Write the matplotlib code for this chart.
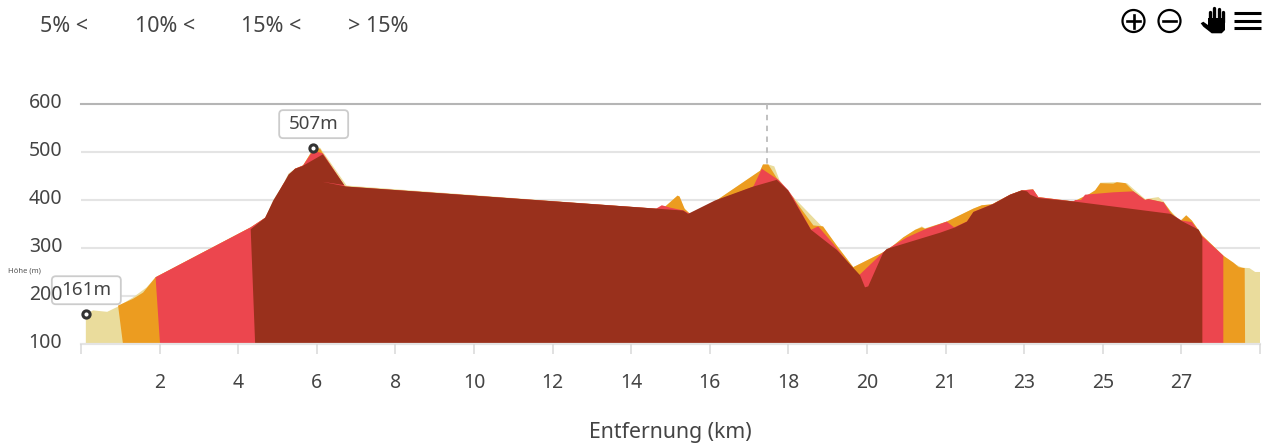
# -*- coding: utf-8 -*-
import matplotlib
matplotlib.use("Agg")
import matplotlib.pyplot as plt
from matplotlib.patches import Circle, FancyBboxPatch, Polygon
from matplotlib.transforms import ScaledTranslation

plt.rcParams['font.family'] = ['Noto Sans', 'DejaVu Sans']

text_col = '#444444'
fontsize = 14

legend_labels = ["5% <", "10% <", "15% <", "> 15%"]
y_ticks = [100, 200, 300, 400, 500, 600]
x_ticks = [0, 1.95, 3.9, 5.85, 7.8, 9.75, 11.7, 13.65, 15.6, 17.55, 19.5,
           21.45, 23.4, 25.35, 27.3, 29.25]
x_labels = ["", "2", "4", "6", "8", "10", "12", "14", "16", "18", "20",
            "21", "23", "25", "27", ""]

# gradient classes, each one an area drawn over the one before
tan_km = [0.12, 0.12, 0.30, 0.65, 0.92, 1.29, 1.63, 1.85, 4.21, 4.57, 4.77,
          5.01, 5.15, 5.31, 5.51, 5.76, 5.93, 6.59, 14.40, 14.49, 14.80,
          14.85, 14.95, 15.11, 15.73, 16.85, 16.92, 17.05, 17.20, 17.33,
          17.64, 18.38, 18.75, 19.16, 19.90, 20.15, 20.40, 20.70, 20.86,
          20.94, 21.48, 22.14, 22.35, 22.60, 23.05, 23.34, 23.62, 23.75,
          24.62, 24.71, 24.83, 24.99, 25.16, 25.29, 25.66, 25.95, 26.11,
          26.40, 26.73, 26.86, 27.02, 27.27, 27.42, 27.56, 27.82, 28.34,
          28.59, 28.80, 28.99, 29.13, 29.25, 29.25]
tan_m = [100, 161, 169, 166, 177, 196, 217, 238, 342, 362, 398,
         431, 454, 464, 471, 506, 508, 429, 380, 385, 408,
         406, 383, 370, 396, 460, 473, 473, 469, 440,
         408, 344, 304, 259, 290, 304, 321, 337, 344,
         340, 354, 381, 388, 390, 410, 419, 421, 405,
         396, 399, 404, 410, 419, 435, 436, 434, 422,
         401, 405, 396, 377, 356, 367, 356, 325, 283,
         267, 258, 257, 249, 249, 100]

orange_km = [1.04, 0.92, 1.29, 1.54, 1.85, 4.21, 4.57, 5.01, 5.31, 5.51, 5.76,
             5.93, 6.00, 6.55, 14.40, 14.49, 14.80, 14.85, 14.98, 15.11, 15.73,
             16.85, 16.92, 17.05, 17.26, 17.59, 18.17, 18.41, 18.75, 19.16,
             19.90, 20.15, 20.40, 20.70, 20.86, 20.94, 21.48, 22.14, 22.35,
             22.60, 23.05, 23.34, 23.62, 23.75, 24.62, 24.71, 24.83, 24.99,
             25.16, 25.29, 25.61, 25.70, 25.91, 26.11, 26.40, 26.48, 26.86,
             27.08, 27.27, 27.42, 27.56, 27.82, 28.34, 28.60, 28.72, 28.87,
             28.88]
orange_m = [100, 179, 193, 206, 238, 342, 362, 431, 464, 471, 505,
            506, 496, 427, 380, 385, 408, 406, 380, 370, 396,
            460, 473, 473, 445, 412, 346, 344, 304, 259,
            290, 304, 321, 337, 342, 339, 354, 381, 388,
            390, 410, 419, 421, 405, 396, 399, 404, 410,
            419, 434, 433, 436, 434, 417, 399, 401, 394,
            370, 354, 367, 356, 325, 283, 268, 259, 257,
            100]

red_km = [1.96, 1.85, 4.21, 4.57, 5.01, 5.31, 5.51, 5.76, 6.00, 6.55, 14.27,
          14.41, 14.62, 14.95, 15.11, 15.73, 16.68, 16.89, 17.30, 17.55,
          17.67, 18.11, 18.29, 18.66, 19.12, 19.30, 19.90, 20.15, 20.49,
          20.94, 21.32, 21.48, 21.66, 21.98, 22.14, 22.64, 23.05, 23.34,
          23.62, 23.75, 24.62, 24.67, 24.81, 24.91, 25.61, 26.11, 26.40,
          26.48, 26.86, 27.04, 27.31, 27.56, 27.82, 28.34, 28.34]
red_m = [100, 238, 342, 362, 431, 464, 471, 502, 496, 427, 381,
         388, 383, 377, 370, 396, 427, 464, 441, 419,
         404, 337, 344, 308, 259, 242, 290, 304, 321,
         338, 349, 354, 342, 354, 374, 391, 410, 419,
         421, 405, 396, 399, 399, 410, 415, 417, 399,
         401, 394, 370, 356, 353, 323, 283, 100]

dark_km = [4.32, 4.21, 4.57, 4.77, 5.01, 5.15, 5.31, 5.48, 6.00, 6.53, 5.98,
           6.58, 14.94, 15.06, 15.73, 16.68, 17.26, 17.54, 18.11, 18.75,
           19.33, 19.45, 19.53, 19.90, 19.99, 21.32, 21.69, 21.98, 22.14,
           22.64, 23.05, 23.34, 23.47, 23.55, 23.75, 24.62, 27.04, 27.31,
           27.73, 27.82, 27.82]
dark_m = [100, 338, 362, 398, 431, 452, 464, 469, 494, 430, 437,
          427, 377, 370, 398, 427, 441, 419, 337, 295,
          242, 217, 219, 289, 297, 331, 342, 354, 374,
          391, 410, 419, 417, 410, 403, 396, 370, 355,
          337, 321, 100]

# start and top of the track
marker_km = [0.12, 5.76]
marker_m = [161, 507]
marker_labels = ["161m", "507m"]

crosshair_km = [17.03, 17.03]
crosshair_m = [600, 473]

fig = plt.figure(figsize=(12.71, 4.47), dpi=100)
ax = fig.add_axes([81 / 1271, 1 - 343.5 / 447, 1179 / 1271, 240 / 447])

ax.fill(tan_km, tan_m, color='#EADC9C', lw=0, zorder=1)
ax.fill(orange_km, orange_m, color='#EC9C20', lw=0, zorder=1.1)
ax.fill(red_km, red_m, color='#EC464E', lw=0, zorder=1.2)
ax.fill(dark_km, dark_m, color='#99301C', lw=0, zorder=1.3)

ax.plot(crosshair_km, crosshair_m, color='#bbbbbb', lw=1.3,
        linestyle=(0, (3, 3)), zorder=1.5)

ax.set_xlim(0, 29.25)
ax.set_ylim(100, 600)
ax.set_xticks(x_ticks)
ax.set_xticklabels(x_labels)
ax.set_yticks(y_ticks)

# the box of the first label sits over the 200 line but under its tick label
ax.set_axisbelow(False)
for v in y_ticks[1:-1]:
    ax.axhline(v, color='#e4e4e4', lw=1.5, zorder=0.5)
ax.axhline(y_ticks[-1], color='#b5b5b5', lw=1.5, zorder=0.5, clip_on=False)

for s in ['top', 'left', 'right']:
    ax.spines[s].set_visible(False)
ax.spines['bottom'].set_color('#e4e4e4')
ax.spines['bottom'].set_linewidth(1.6)
ax.tick_params(axis='x', length=7.2, width=1.1, color='#d8d8d8',
               labelcolor=text_col, labelsize=fontsize, pad=14)
ax.tick_params(axis='y', length=0, labelcolor=text_col, labelsize=fontsize,
               pad=13.5)
for t in ax.get_xticklines():
    t.set_clip_on(False)
for t in ax.get_yticklabels():
    t.set_transform(t.get_transform() + ScaledTranslation(0, 3 / 100, fig.dpi_scale_trans))

ax.plot(marker_km, marker_m, linestyle='none', marker='o', ms=5.2, mew=2.2,
        mec='#333333', mfc='white', zorder=2.2, clip_on=False)
for km, m, lab in zip(marker_km, marker_m, marker_labels):
    ax.add_patch(FancyBboxPatch((-34, 10), 69, 28,
                                boxstyle='round,pad=0,rounding_size=4',
                                transform=ScaledTranslation(km, m, ax.transData),
                                fc='white', ec='#cccccc', lw=1.3, zorder=2,
                                clip_on=False))
    ax.annotate(lab, (km, m), xytext=(0.4, 17.3), textcoords='offset points',
                ha='center', va='center', fontsize=13.5, color=text_col,
                zorder=2.1, annotation_clip=False)

fig.text(670 / 1271, 1 - 432.5 / 447, "Entfernung (km)", ha='center',
         va='center', fontsize=15.3, color=text_col)
fig.text(24 / 1271, 1 - 271 / 447, "Höhe (m)", ha='center', va='center',
         fontsize=5.5, color='#555555')

for x0, lab in zip([64.5, 165.5, 271.5, 378], legend_labels):
    fig.text(x0 / 1271, 1 - 26 / 447, lab, ha='center', va='center',
             fontsize=15.5, color=text_col)

# toolbar icons, in pixels
tb = fig.add_axes([0, 0, 1, 1], facecolor='none')
tb.set_xlim(0, 1271)
tb.set_ylim(447, 0)
tb.axis('off')
for cx in [1133.5, 1169.5]:
    tb.add_patch(Circle((cx, 21), 11, fc='none', ec='black', lw=1.6))
    tb.plot([cx - 6.5, cx + 6.5], [21, 21], color='black', lw=1.9)
tb.plot([1133.5, 1133.5], [14.5, 27.5], color='black', lw=1.9)
tb.add_patch(Polygon([(1208, 18), (1225, 18), (1225, 30), (1221.7, 33.3),
                      (1211.7, 33.3), (1203.3, 26.7), (1200.7, 23.3),
                      (1203.3, 21.7), (1208, 25)], fc='black', ec='none'))
for fx, fy in zip([1210, 1214.3, 1218.7, 1222.7], [12, 8, 9, 12]):
    tb.plot([fx, fx], [fy, 22], color='black', lw=2.4, solid_capstyle='round')
for ly in [12.7, 20.5, 28.3]:
    tb.plot([1233.5, 1261], [ly, ly], color='black', lw=2.2,
            solid_capstyle='butt')

fig.savefig("out.png", dpi=100)
